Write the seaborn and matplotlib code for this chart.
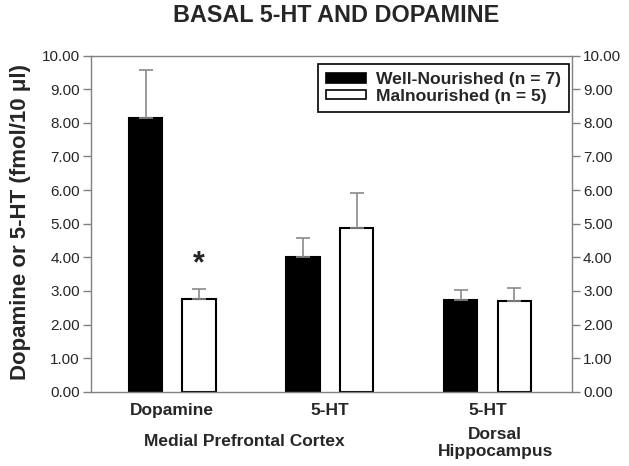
import numpy as np
import pandas as pd
import seaborn as sns
import matplotlib.pyplot as plt
from matplotlib.patches import Patch
from matplotlib.ticker import FormatStrFormatter

# данные
categories = ['mPFC Dopamine', 'mPFC 5-HT', 'DH 5-HT']
tick_labels = ['Dopamine', '5-HT', '5-HT']
groups = ['Well-Nourished (n = 7)', 'Malnourished (n = 5)']
well_means = [8.15, 4.01, 2.73]
well_sem = [1.43, 0.57, 0.29]
mal_means = [2.76, 4.88, 2.71]
mal_sem = [0.29, 1.04, 0.37]
bar_colors = ['black', 'white']

df = pd.DataFrame({
    'region': categories * 2,
    'group': [groups[0]] * 3 + [groups[1]] * 3,
    'value': well_means + mal_means,
})

sns.set_style('white')
plt.rcParams['font.family'] = ['Liberation Sans', 'DejaVu Sans']

fig = plt.figure(figsize=(6.29, 4.66), dpi=100)
ax = fig.add_axes([0.1447, 0.1594, 0.7647, 0.7211])

sns.barplot(data=df, x='region', y='value', hue='group', order=categories,
            hue_order=groups, palette=bar_colors, saturation=1,
            edgecolor='black', linewidth=1.5, width=0.68, gap=0.38,
            errorbar=None, legend=False, ax=ax)

# планки погрешностей только вверх
for cont, errs in zip(ax.containers, [well_sem, mal_sem]):
    for bar, e in zip(cont, errs):
        xc = bar.get_x() + bar.get_width() / 2
        top = bar.get_height()
        ax.errorbar(xc, top, yerr=[[0], [e]], fmt='none', ecolor='#8a8a8a',
                    elinewidth=1.2, capsize=5, capthick=1.2, zorder=1)

# звёздочка над столбиком Malnourished / Dopamine
star_bar = ax.containers[1][0]
ax.text(star_bar.get_x() + star_bar.get_width() / 2, 3.8, '*',
        ha='center', va='center', fontsize=22, fontweight='bold')

ax.set_xlim(-0.516, 2.537)
ax.set_ylim(0, 10)
ax.set_yticks(np.arange(0, 10.01, 1))
ax.yaxis.set_major_formatter(FormatStrFormatter('%.2f'))
ax.set_xticks(range(3))
ax.set_xticklabels(tick_labels, fontsize=12.5, fontweight='bold')
ax.tick_params(axis='x', length=0, pad=8)
ax.tick_params(axis='y', direction='out', length=6, width=1, color='#808080',
               labelsize=11, left=True, right=True, labelright=True, pad=2)
for sp in ax.spines.values():
    sp.set_visible(True)
    sp.set_color('#808080')
    sp.set_linewidth(1)

ax.set_xlabel('')
ax.set_ylabel('Dopamine or 5-HT (fmol/10 \u03bcl)', fontsize=16, fontweight='bold')
ax.yaxis.set_label_coords(-0.125, 0.505)

# подписи областей мозга
trans = ax.get_xaxis_transform()
ax.text(0.46, -0.149, 'Medial Prefrontal Cortex', transform=trans, ha='center',
        va='center', fontsize=12.5, fontweight='bold')
ax.text(2.05, -0.152, 'Dorsal\nHippocampus', transform=trans, ha='center',
        va='center', fontsize=12.5, fontweight='bold', linespacing=1.2)

handles = [Patch(facecolor=c, edgecolor='black', linewidth=1.2) for c in bar_colors]
leg = ax.legend(handles, groups, loc='upper right', bbox_to_anchor=(0.994, 0.975),
                borderaxespad=0, fancybox=False, framealpha=1, edgecolor='black',
                prop={'size': 12.6, 'weight': 'bold'}, labelspacing=0.1,
                borderpad=0.45, handlelength=2.3, handleheight=0.5,
                handletextpad=0.57)
leg.get_frame().set_linewidth(1.2)

fig.text(336 / 629, 1 - 16 / 466, 'BASAL 5-HT AND DOPAMINE', ha='center',
         va='center', fontsize=16.8, fontweight='bold')

fig.savefig('out.png', dpi=100)
